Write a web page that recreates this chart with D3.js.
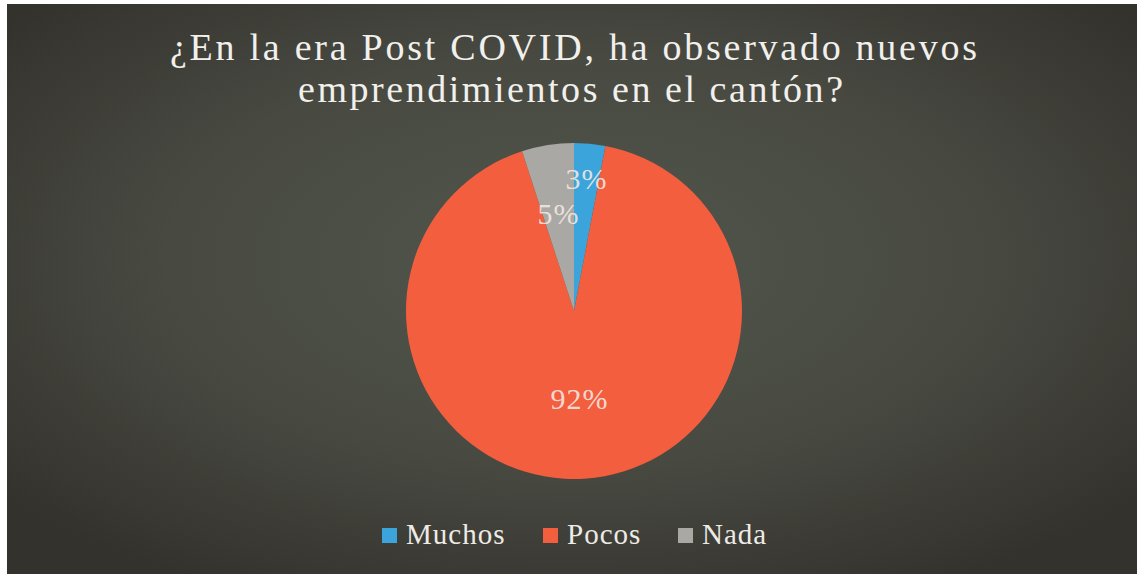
<!DOCTYPE html>
<html>
<head>
<meta charset="utf-8">
<script src="https://cdn.jsdelivr.net/npm/d3@7"></script>
<style>
  html, body { margin: 0; padding: 0; background: #ffffff; }
  svg { display: block; }
</style>
</head>
<body>
<svg id="chart" width="1137" height="574"></svg>
<script>
// ---- data ----
const titleLines = ["¿En la era Post COVID, ha observado nuevos", "emprendimientos en el cantón?"];
const categories = ["Muchos", "Pocos", "Nada"];
const values = [3, 92, 5];
const colors = ["#3ba4da", "#f25e3e", "#a9a8a4"];

// ---- layout ----
const W = 1137, H = 574;
const svg = d3.select("#chart");
const defs = svg.append("defs");
const grad = defs.append("radialGradient").attr("id", "bg")
  .attr("cx", "50%").attr("cy", "45%").attr("r", "65%");
grad.append("stop").attr("offset", "0%").attr("stop-color", "#52564c");
grad.append("stop").attr("offset", "55%").attr("stop-color", "#484a42");
grad.append("stop").attr("offset", "100%").attr("stop-color", "#34322d");

svg.append("rect").attr("x", 7).attr("y", 4).attr("width", W - 7).attr("height", H - 4)
  .attr("fill", "url(#bg)");

const serif = "'Liberation Serif', 'Times New Roman', serif";

// title
const titleWidths = [807, 545];
svg.append("g").selectAll("text").data(titleLines).join("text")
  .attr("x", (d, i) => i === 0 ? 170 : 298)
  .attr("y", (d, i) => 60 + i * 42)
  .attr("font-family", serif)
  .attr("font-size", 38)
  .attr("fill", "#f2f0ec")
  .attr("textLength", (d, i) => titleWidths[i])
  .attr("lengthAdjust", "spacing")
  .text(d => d);

// pie
const cx = 574, cy = 311, R = 168;
const pie = d3.pie().sort(null).value(d => d.value);
const arcs = pie(categories.map((c, i) => ({ cat: c, value: values[i], color: colors[i] })));
const arc = d3.arc().innerRadius(0).outerRadius(R);
const g = svg.append("g").attr("transform", `translate(${cx},${cy})`);
g.selectAll("path").data(arcs).join("path")
  .attr("d", arc)
  .attr("fill", d => d.data.color);

const labelFactor = { Muchos: 0.79, Pocos: 0.52, Nada: 0.59 };
const total = d3.sum(values);
g.selectAll("text.lbl").data(arcs).join("text")
  .attr("class", "lbl")
  .attr("transform", d => {
    const r = R * labelFactor[d.data.cat];
    const la = d3.arc().innerRadius(r).outerRadius(r);
    const [x, y] = la.centroid(d);
    return `translate(${x},${y})`;
  })
  .attr("text-anchor", "middle")
  .attr("dominant-baseline", "central")
  .attr("font-family", serif)
  .attr("font-size", 30)
  .attr("letter-spacing", 1)
  .attr("fill", "#f4e8e2")
  .attr("fill-opacity", 0.9)
  .text(d => Math.round(d.data.value / total * 100) + "%");

// legend
const legendX = [382, 543, 678];
const lg = svg.append("g");
const items = lg.selectAll("g").data(categories).join("g")
  .attr("transform", (d, i) => `translate(${legendX[i]},528)`);
items.append("rect").attr("width", 15).attr("height", 15)
  .attr("fill", (d, i) => colors[i]);
items.append("text").attr("x", 24).attr("y", 16)
  .attr("font-family", serif)
  .attr("font-size", 29)
  .attr("letter-spacing", 1)
  .attr("fill", "#eeebe6")
  .text(d => d);
</script>
</body>
</html>
